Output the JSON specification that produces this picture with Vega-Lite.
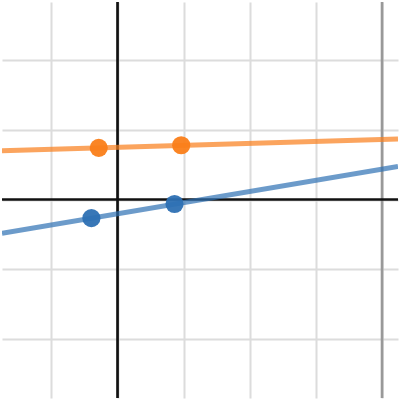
{
  "$schema": "https://vega.github.io/schema/vega-lite/v6.json",
  "width": 400,
  "height": 400,
  "autosize": {"type": "fit", "contains": "padding"},
  "padding": 0,
  "background": "white",
  "config": {
    "view": {"stroke": null},
    "axis": {"domain": false, "ticks": false, "labels": false, "title": null, "grid": true, "gridColor": "#dcdcdc", "gridWidth": 2, "gridOpacity": 1}
  },
  "datasets": {
    "lines": [
      {"series": "blue", "x": -1.747, "y": -0.484},
      {"series": "blue", "x": 4.241, "y": 0.475},
      {"series": "orange", "x": -1.747, "y": 0.700},
      {"series": "orange", "x": 4.241, "y": 0.868}
    ],
    "points": [
      {"series": "orange", "x": -0.284, "y": 0.740},
      {"series": "orange", "x": 0.963, "y": 0.777},
      {"series": "blue", "x": -0.395, "y": -0.267},
      {"series": "blue", "x": 0.862, "y": -0.064}
    ],
    "vrules": [{"x": 0, "kind": "axis"}, {"x": 4, "kind": "line"}],
    "hrules": [{"y": 0}]
  },
  "layer": [
    {
      "data": {"name": "vrules"},
      "mark": {"type": "rule", "strokeWidth": 2.7},
      "encoding": {
        "x": {"field": "x", "type": "quantitative", "scale": {"domain": [-1.747, 4.241], "nice": false, "zero": false}, "axis": {"values": [-1, 0, 1, 2, 3, 4]}},
        "color": {"field": "kind", "type": "nominal", "scale": {"domain": ["axis", "line"], "range": ["#111111", "#999999"]}, "legend": null}
      }
    },
    {
      "data": {"name": "hrules"},
      "mark": {"type": "rule", "strokeWidth": 2.7, "color": "#111111"},
      "encoding": {
        "y": {"field": "y", "type": "quantitative", "scale": {"domain": [-2.844, 2.83], "nice": false, "zero": false}, "axis": {"values": [-2, -1, 0, 1, 2]}}
      }
    },
    {
      "data": {"name": "lines"},
      "mark": {"type": "line", "strokeWidth": 5, "opacity": 0.7, "clip": true},
      "encoding": {
        "x": {"field": "x", "type": "quantitative"},
        "y": {"field": "y", "type": "quantitative"},
        "detail": {"field": "series"},
        "stroke": {"field": "series", "type": "nominal", "scale": {"domain": ["blue", "orange"], "range": ["#2d70b3", "#fa7e19"]}, "legend": null}
      }
    },
    {
      "data": {"name": "points"},
      "mark": {"type": "circle", "size": 330, "opacity": 0.95},
      "encoding": {
        "x": {"field": "x", "type": "quantitative"},
        "y": {"field": "y", "type": "quantitative"},
        "fill": {"field": "series", "type": "nominal", "scale": {"domain": ["blue", "orange"], "range": ["#2d70b3", "#fa7e19"]}, "legend": null}
      }
    }
  ],
  "resolve": {"scale": {"color": "independent"}}
}
